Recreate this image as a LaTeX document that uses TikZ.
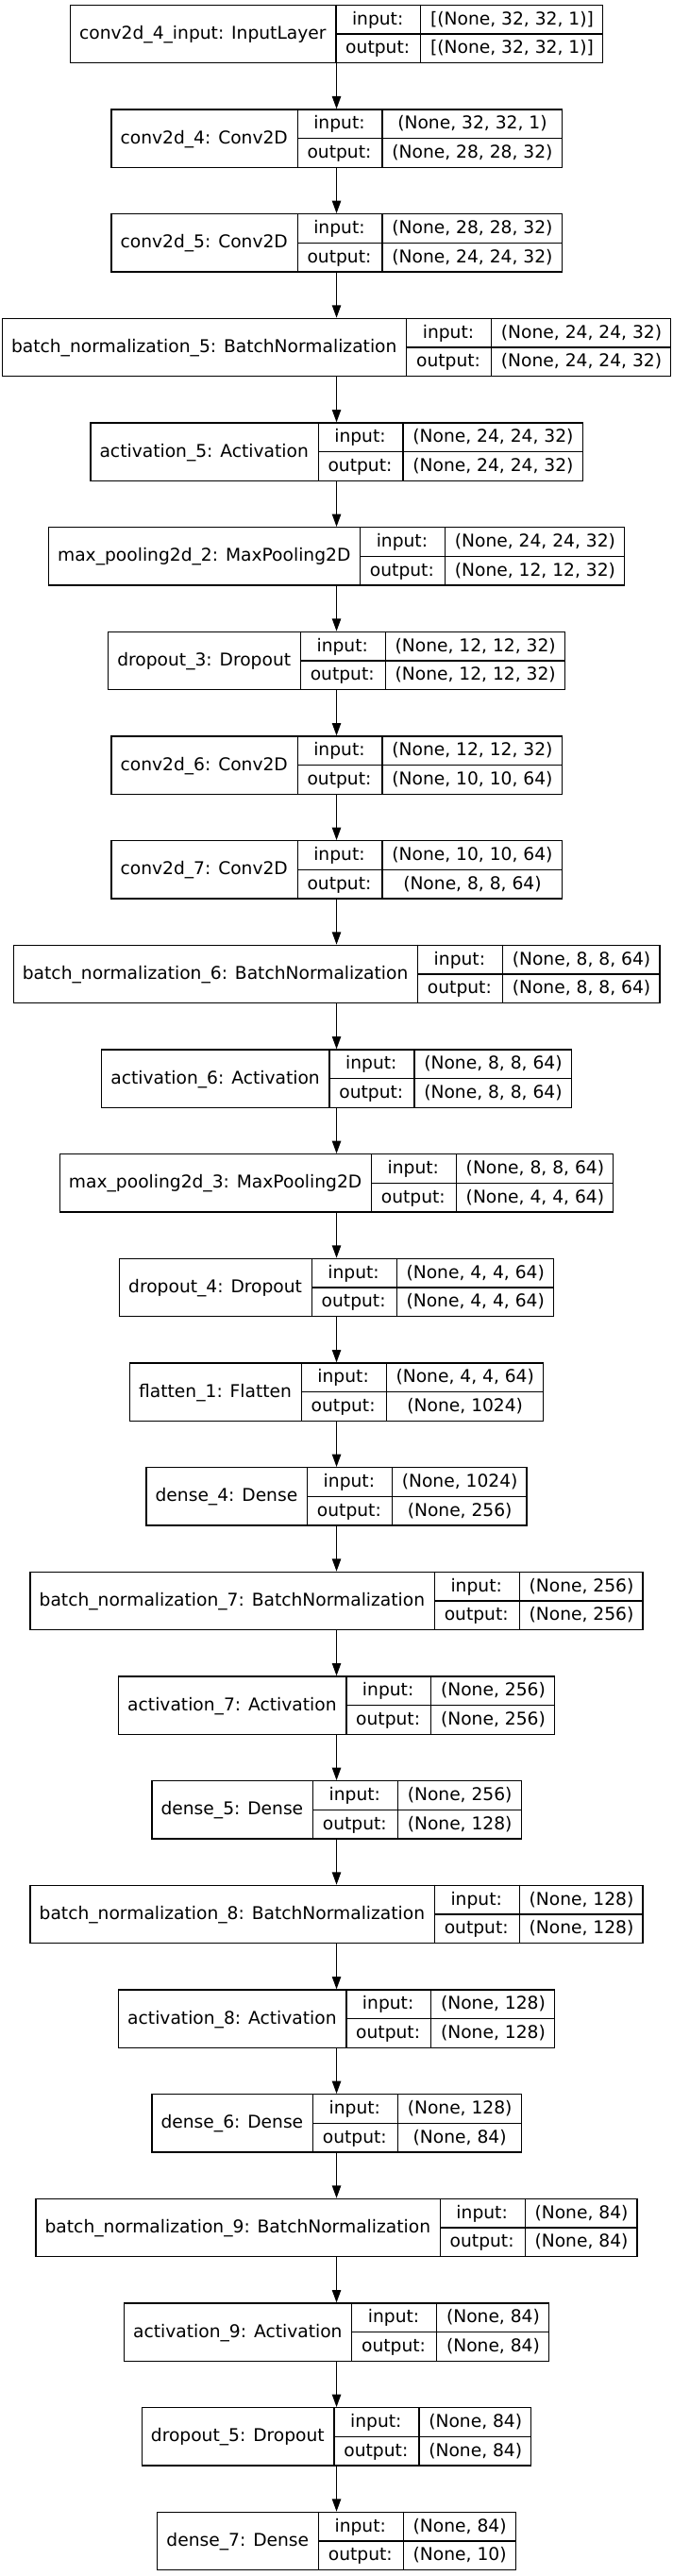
\documentclass[tikz,border=0pt]{standalone}
\usepackage{fontspec}
\setmainfont{DejaVu Sans}
\usetikzlibrary{arrows.meta}

\newcommand\lfont{\fontsize{14pt}{17pt}\selectfont}
\newlength\lblw \newlength\iow \newlength\shw \newlength\tmpw
% width of a text, measured outside the picture's null font
\newcommand\measure[2]{%
  \pgfinterruptpicture\settowidth\tmpw{\lfont #2}\global#1=\tmpw\endpgfinterruptpicture}
% one layer: name, label, input shape, output shape, row
\newcommand\layer[5]{%
  \measure\lblw{#2}\addtolength\lblw{15.5pt}%
  \measure\iow{output:}\addtolength\iow{15.5pt}%
  \measure\shw{#3}\measure\tmpw{#4}%
  \ifdim\tmpw>\shw \shw=\tmpw\fi \addtolength\shw{15.5pt}%
  \node[layerbox, minimum width=\lblw+\iow+\shw] (#1) at (267.4pt,{-27pt-83pt*#5}) {};
  \node[txt] at ([xshift=0.5\lblw]#1.west) {#2};
  \node[txt] at ([xshift=\lblw+0.5\iow,yshift=11.5pt]#1.west) {input:};
  \node[txt] at ([xshift=\lblw+0.5\iow,yshift=-11.5pt]#1.west) {output:};
  \node[txt] at ([xshift=-0.5\shw,yshift=11.5pt]#1.east) {#3};
  \node[txt] at ([xshift=-0.5\shw,yshift=-11.5pt]#1.east) {#4};
  \draw [black] ([xshift=\lblw]#1.north west) -- ([xshift=\lblw]#1.south west);
  \draw [black] ([xshift=-\shw]#1.north east) -- ([xshift=-\shw]#1.south east);
  \draw [black] ([xshift=\lblw]#1.west) -- (#1.east);
}

\begin{document}
\begin{tikzpicture}[line width=1pt,
    layerbox/.style={draw=black, rectangle, minimum height=46pt},
    txt/.style={font=\lfont, text height=11.2pt, text depth=3pt},
    flow/.style={-{Triangle[length=10pt,width=7pt]}}]
                \tikzstyle{every node}+=[inner sep=0pt]
                \useasboundingbox (0,0) rectangle (534.75pt,-2046.75pt);
                \layer{inp}{conv2d\_4\_input: InputLayer}{[(None, 32, 32, 1)]}{[(None, 32, 32, 1)]}{0}
                \layer{conv4}{conv2d\_4: Conv2D}{(None, 32, 32, 1)}{(None, 28, 28, 32)}{1}
                \layer{conv5}{conv2d\_5: Conv2D}{(None, 28, 28, 32)}{(None, 24, 24, 32)}{2}
                \layer{bn5}{batch\_normalization\_5: BatchNormalization}{(None, 24, 24, 32)}{(None, 24, 24, 32)}{3}
                \layer{act5}{activation\_5: Activation}{(None, 24, 24, 32)}{(None, 24, 24, 32)}{4}
                \layer{pool2}{max\_pooling2d\_2: MaxPooling2D}{(None, 24, 24, 32)}{(None, 12, 12, 32)}{5}
                \layer{drop3}{dropout\_3: Dropout}{(None, 12, 12, 32)}{(None, 12, 12, 32)}{6}
                \layer{conv6}{conv2d\_6: Conv2D}{(None, 12, 12, 32)}{(None, 10, 10, 64)}{7}
                \layer{conv7}{conv2d\_7: Conv2D}{(None, 10, 10, 64)}{(None, 8, 8, 64)}{8}
                \layer{bn6}{batch\_normalization\_6: BatchNormalization}{(None, 8, 8, 64)}{(None, 8, 8, 64)}{9}
                \layer{act6}{activation\_6: Activation}{(None, 8, 8, 64)}{(None, 8, 8, 64)}{10}
                \layer{pool3}{max\_pooling2d\_3: MaxPooling2D}{(None, 8, 8, 64)}{(None, 4, 4, 64)}{11}
                \layer{drop4}{dropout\_4: Dropout}{(None, 4, 4, 64)}{(None, 4, 4, 64)}{12}
                \layer{flat1}{flatten\_1: Flatten}{(None, 4, 4, 64)}{(None, 1024)}{13}
                \layer{dense4}{dense\_4: Dense}{(None, 1024)}{(None, 256)}{14}
                \layer{bn7}{batch\_normalization\_7: BatchNormalization}{(None, 256)}{(None, 256)}{15}
                \layer{act7}{activation\_7: Activation}{(None, 256)}{(None, 256)}{16}
                \layer{dense5}{dense\_5: Dense}{(None, 256)}{(None, 128)}{17}
                \layer{bn8}{batch\_normalization\_8: BatchNormalization}{(None, 128)}{(None, 128)}{18}
                \layer{act8}{activation\_8: Activation}{(None, 128)}{(None, 128)}{19}
                \layer{dense6}{dense\_6: Dense}{(None, 128)}{(None, 84)}{20}
                \layer{bn9}{batch\_normalization\_9: BatchNormalization}{(None, 84)}{(None, 84)}{21}
                \layer{act9}{activation\_9: Activation}{(None, 84)}{(None, 84)}{22}
                \layer{drop5}{dropout\_5: Dropout}{(None, 84)}{(None, 84)}{23}
                \layer{dense7}{dense\_7: Dense}{(None, 84)}{(None, 10)}{24}
                \draw [flow] (inp) -- (conv4);
                \draw [flow] (conv4) -- (conv5);
                \draw [flow] (conv5) -- (bn5);
                \draw [flow] (bn5) -- (act5);
                \draw [flow] (act5) -- (pool2);
                \draw [flow] (pool2) -- (drop3);
                \draw [flow] (drop3) -- (conv6);
                \draw [flow] (conv6) -- (conv7);
                \draw [flow] (conv7) -- (bn6);
                \draw [flow] (bn6) -- (act6);
                \draw [flow] (act6) -- (pool3);
                \draw [flow] (pool3) -- (drop4);
                \draw [flow] (drop4) -- (flat1);
                \draw [flow] (flat1) -- (dense4);
                \draw [flow] (dense4) -- (bn7);
                \draw [flow] (bn7) -- (act7);
                \draw [flow] (act7) -- (dense5);
                \draw [flow] (dense5) -- (bn8);
                \draw [flow] (bn8) -- (act8);
                \draw [flow] (act8) -- (dense6);
                \draw [flow] (dense6) -- (bn9);
                \draw [flow] (bn9) -- (act9);
                \draw [flow] (act9) -- (drop5);
                \draw [flow] (drop5) -- (dense7);
            \end{tikzpicture}
\end{document}
